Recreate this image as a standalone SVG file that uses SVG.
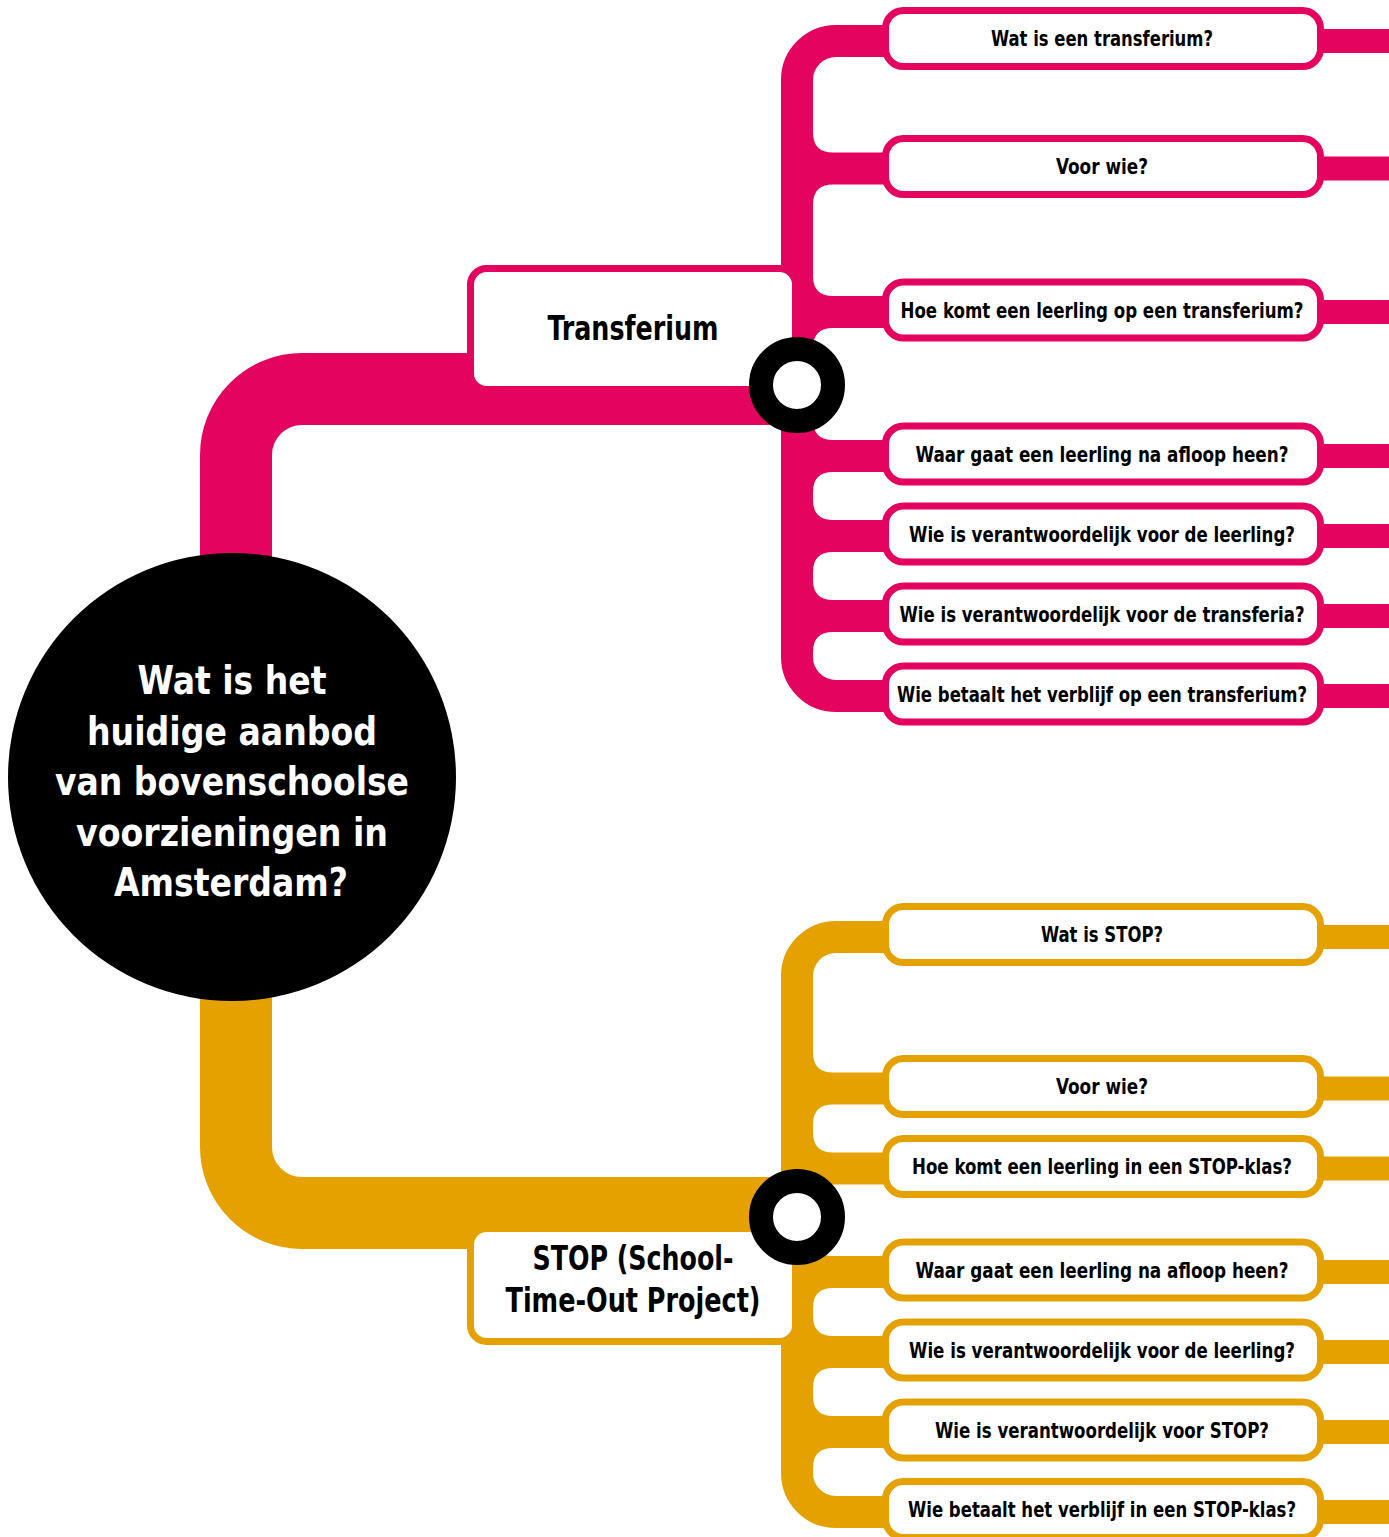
<svg xmlns="http://www.w3.org/2000/svg" width="1389" height="1537" viewBox="0 0 1389 1537">
  <style>
    .pk { fill: none; stroke: #E4035F; }
    .or { fill: none; stroke: #E5A100; }
    .pkf { fill: #E4035F; }
    .orf { fill: #E5A100; }
    .band { stroke-width: 72; }
    .trunk { stroke-width: 32; }
    .stub { stroke-width: 24; }
    .leafP { fill: #fff; stroke: #E4035F; stroke-width: 7; }
    .leafO { fill: #fff; stroke: #E5A100; stroke-width: 7; }
    .t { font-family: "DejaVu Sans Condensed", "DejaVu Sans", "Liberation Sans", sans-serif; font-stretch: condensed; font-weight: bold; text-anchor: middle; fill: #000; }
    .leaf { font-size: 21px; }
    .mid { font-size: 34px; }
    .main { font-size: 39px; fill: #fff; }
    .ring { fill: #fff; stroke: #000; stroke-width: 24; }
  </style>

  <g id="connectors">
    <!-- pink -->
    <path class="pk band" d="M236,560 V455 A66,66 0 0 1 302,389 H797"/>
    <path class="pk trunk" d="M890,41 H836 A39,39 0 0 0 797,80 V657 A39,39 0 0 0 836,696 H890"/>
    <path class="pkf" d="M805,132.5 H813 Q813,152.5 833,152.5 H890 V184.5 H833 Q813,184.5 813,204.5 H805 Z"/>
    <path class="pkf" d="M805,276 H813 Q813,296 833,296 H890 V328 H833 Q813,328 813,348 H805 Z"/>
    <path class="pkf" d="M805,420 H813 Q813,440 833,440 H890 V472 H833 Q813,472 813,492 H805 Z"/>
    <path class="pkf" d="M805,500 H813 Q813,520 833,520 H890 V552 H833 Q813,552 813,572 H805 Z"/>
    <path class="pkf" d="M805,580 H813 Q813,600 833,600 H890 V632 H833 Q813,632 813,652 H805 Z"/>
    <path class="pk stub" d="M1316,41 H1389 M1316,168.5 H1389 M1316,312 H1389 M1316,456 H1389 M1316,536 H1389 M1316,616 H1389 M1316,696 H1389"/>
    <!-- orange -->
    <path class="or band" d="M236,990 V1147 A66,66 0 0 0 302,1213 H797"/>
    <path class="or trunk" d="M890,937 H836 A39,39 0 0 0 797,976 V1473 A39,39 0 0 0 836,1512 H890"/>
    <path class="orf" d="M805,1052.5 H813 Q813,1072.5 833,1072.5 H890 V1104.5 H833 Q813,1104.5 813,1124.5 H805 Z"/>
    <path class="orf" d="M805,1132.5 H813 Q813,1152.5 833,1152.5 H890 V1184.5 H833 Q813,1184.5 813,1204.5 H805 Z"/>
    <path class="orf" d="M805,1236 H813 Q813,1256 833,1256 H890 V1288 H833 Q813,1288 813,1308 H805 Z"/>
    <path class="orf" d="M805,1316 H813 Q813,1336 833,1336 H890 V1368 H833 Q813,1368 813,1388 H805 Z"/>
    <path class="orf" d="M805,1396 H813 Q813,1416 833,1416 H890 V1448 H833 Q813,1448 813,1468 H805 Z"/>
    <path class="or stub" d="M1316,937 H1389 M1316,1088.5 H1389 M1316,1168.5 H1389 M1316,1272 H1389 M1316,1352 H1389 M1316,1432 H1389 M1316,1512 H1389"/>
  </g>

  <g id="root">
    <circle cx="232" cy="777" r="224" fill="#000"/>
    <text class="t main" x="232" y="694" textLength="189" lengthAdjust="spacingAndGlyphs">Wat is het</text>
    <text class="t main" x="232" y="744.5" textLength="290" lengthAdjust="spacingAndGlyphs">huidige aanbod</text>
    <text class="t main" x="232" y="795" textLength="354" lengthAdjust="spacingAndGlyphs">van bovenschoolse</text>
    <text class="t main" x="232" y="845.5" textLength="312" lengthAdjust="spacingAndGlyphs">voorzieningen in</text>
    <text class="t main" x="231" y="896" textLength="234" lengthAdjust="spacingAndGlyphs">Amsterdam?</text>
  </g>

  <g id="transferium">
    <rect x="470.5" y="268.5" width="325" height="121" rx="16" fill="#fff" stroke="#E4035F" stroke-width="7"/>
    <text class="t mid" x="633" y="340" textLength="171" lengthAdjust="spacingAndGlyphs">Transferium</text>
  </g>

  <g id="stop">
    <rect x="470.5" y="1228.5" width="325" height="113" rx="16" fill="#fff" stroke="#E5A100" stroke-width="7"/>
    <text class="t mid" x="633" y="1270" textLength="201" lengthAdjust="spacingAndGlyphs">STOP (School-</text>
    <text class="t mid" x="633" y="1312" textLength="255" lengthAdjust="spacingAndGlyphs">Time-Out Project)</text>
  </g>

  <g id="p1"><rect class="leafP" x="885.5" y="10.5" width="435" height="56" rx="18"/><text class="t leaf" x="1102" y="46" textLength="222" lengthAdjust="spacingAndGlyphs">Wat is een transferium?</text></g>
  <g id="p2"><rect class="leafP" x="885.5" y="138.5" width="435" height="56" rx="18"/><text class="t leaf" x="1102" y="174" textLength="92" lengthAdjust="spacingAndGlyphs">Voor wie?</text></g>
  <g id="p3"><rect class="leafP" x="885.5" y="282" width="435" height="56" rx="18"/><text class="t leaf" x="1102" y="317.5" textLength="403" lengthAdjust="spacingAndGlyphs">Hoe komt een leerling op een transferium?</text></g>
  <g id="p4"><rect class="leafP" x="885.5" y="426" width="435" height="56" rx="18"/><text class="t leaf" x="1102" y="461.5" textLength="373" lengthAdjust="spacingAndGlyphs">Waar gaat een leerling na afloop heen?</text></g>
  <g id="p5"><rect class="leafP" x="885.5" y="506" width="435" height="56" rx="18"/><text class="t leaf" x="1102" y="541.5" textLength="386" lengthAdjust="spacingAndGlyphs">Wie is verantwoordelijk voor de leerling?</text></g>
  <g id="p6"><rect class="leafP" x="885.5" y="586" width="435" height="56" rx="18"/><text class="t leaf" x="1102" y="621.5" textLength="405" lengthAdjust="spacingAndGlyphs">Wie is verantwoordelijk voor de transferia?</text></g>
  <g id="p7"><rect class="leafP" x="885.5" y="666" width="435" height="56" rx="18"/><text class="t leaf" x="1102" y="701.5" textLength="410" lengthAdjust="spacingAndGlyphs">Wie betaalt het verblijf op een transferium?</text></g>

  <g id="o1"><rect class="leafO" x="885.5" y="906.5" width="435" height="56" rx="18"/><text class="t leaf" x="1102" y="942" textLength="122" lengthAdjust="spacingAndGlyphs">Wat is STOP?</text></g>
  <g id="o2"><rect class="leafO" x="885.5" y="1058.5" width="435" height="56" rx="18"/><text class="t leaf" x="1102" y="1094" textLength="92" lengthAdjust="spacingAndGlyphs">Voor wie?</text></g>
  <g id="o3"><rect class="leafO" x="885.5" y="1138.5" width="435" height="56" rx="18"/><text class="t leaf" x="1102" y="1174" textLength="380" lengthAdjust="spacingAndGlyphs">Hoe komt een leerling in een STOP-klas?</text></g>
  <g id="o4"><rect class="leafO" x="885.5" y="1242" width="435" height="56" rx="18"/><text class="t leaf" x="1102" y="1277.5" textLength="373" lengthAdjust="spacingAndGlyphs">Waar gaat een leerling na afloop heen?</text></g>
  <g id="o5"><rect class="leafO" x="885.5" y="1322" width="435" height="56" rx="18"/><text class="t leaf" x="1102" y="1357.5" textLength="386" lengthAdjust="spacingAndGlyphs">Wie is verantwoordelijk voor de leerling?</text></g>
  <g id="o6"><rect class="leafO" x="885.5" y="1402" width="435" height="56" rx="18"/><text class="t leaf" x="1102" y="1437.5" textLength="334" lengthAdjust="spacingAndGlyphs">Wie is verantwoordelijk voor STOP?</text></g>
  <g id="o7"><rect class="leafO" x="885.5" y="1481.5" width="435" height="56" rx="18"/><text class="t leaf" x="1102" y="1517" textLength="388" lengthAdjust="spacingAndGlyphs">Wie betaalt het verblijf in een STOP-klas?</text></g>

  <g id="junction-transferium"><circle class="ring" cx="797" cy="385" r="36"/></g>
  <g id="junction-stop"><circle class="ring" cx="797" cy="1217" r="36"/></g>
</svg>
